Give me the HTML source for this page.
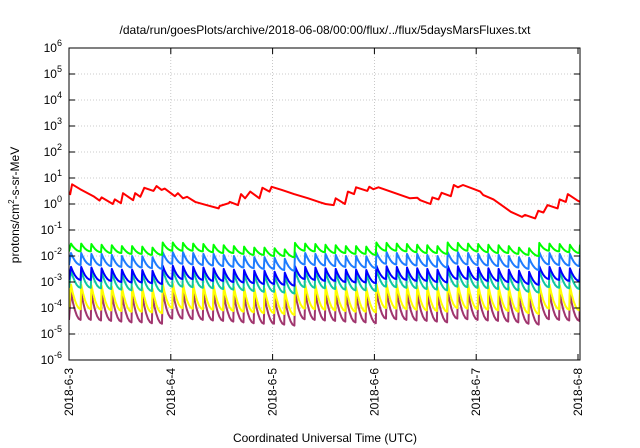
<!DOCTYPE html>
<html><head><meta charset="utf-8"><style>
html,body{margin:0;padding:0;background:#fff;}
svg{display:block;font-family:"Liberation Sans",sans-serif;}
</style></head><body>
<svg id="chart" width="640" height="448" viewBox="0 0 640 448">
<defs><clipPath id="plotclip"><rect x="69" y="48" width="511" height="312"/></clipPath></defs>
<text x="325" y="34" font-size="12" text-anchor="middle" fill="#000">/data/run/goesPlots/archive/2018-06-08/00:00/flux/../flux/5daysMarsFluxes.txt</text>
<g id="grid"></g>
<g id="series" clip-path="url(#plotclip)"></g>
<rect x="69" y="48" width="511" height="312" fill="none" stroke="#000" stroke-width="1"/>
<g id="yticks"></g>
<g id="xticks"></g>
<text transform="translate(19,205) rotate(-90)" font-size="12" text-anchor="middle">protons/cm<tspan dy="-5" font-size="8">2</tspan><tspan dy="5">-s-sr-MeV</tspan></text>
<text x="325" y="442" font-size="12" text-anchor="middle">Coordinated Universal Time (UTC)</text>
</svg>
<script>
const yTickExps = [-6,-5,-4,-3,-2,-1,0,1,2,3,4,5,6];
const xTickLabels = ["2018-6-3","2018-6-4","2018-6-5","2018-6-6","2018-6-7","2018-6-8"];
const xTickDays = [0,1,2,3,4,5];
// tooth (injection) times in days since 2018-6-3
const toothDays = [0.02,0.12,0.22,0.32,0.42,0.52,0.62,0.72,0.82,0.92,1.02,1.12,1.22,1.32,1.42,1.52,1.62,1.72,1.82,1.92,2.02,2.12,2.22,2.32,2.42,2.52,2.62,2.72,2.82,2.92,3.02,3.12,3.22,3.32,3.42,3.52,3.62,3.72,3.82,3.92,4.02,4.12,4.22,4.32,4.42,4.52,4.62,4.72,4.82,4.92,5.02];
const greenPeaks = [.030,.030,.029,.027,.026,.024,.024,.023,.021,.033,.033,.032,.030,.029,.027,.026,.024,.023,.021,.021,.020,.018,.032,.030,.029,.027,.026,.024,.024,.023,.033,.032,.030,.029,.027,.026,.024,.033,.032,.030,.029,.027,.026,.024,.021,.020,.032,.030,.029,.027,.026];
const greenTroughs = [.015,.015,.014,.013,.013,.012,.012,.011,.011,.016,.016,.016,.015,.014,.013,.013,.012,.011,.011,.010,.010,.009,.016,.015,.014,.013,.013,.012,.012,.011,.016,.016,.015,.014,.013,.013,.012,.016,.016,.015,.014,.013,.013,.012,.011,.010,.016,.015,.014,.013,.013];
const lightBluePeaks = [.013,.013,.012,.012,.011,.010,.010,.0098,.0091,.014,.014,.014,.013,.012,.012,.011,.010,.0098,.0091,.0091,.0085,.0078,.014,.013,.012,.012,.011,.010,.010,.0098,.014,.014,.013,.012,.012,.011,.010,.014,.014,.013,.012,.012,.011,.010,.0091,.0085,.014,.013,.012,.012,.011];
const lightBlueTroughs = [.0045,.0045,.0043,.0041,.0038,.0036,.0036,.0034,.0032,.0050,.0050,.0047,.0045,.0043,.0041,.0038,.0036,.0034,.0032,.0032,.0029,.0027,.0047,.0045,.0043,.0041,.0038,.0036,.0036,.0034,.0050,.0047,.0045,.0043,.0041,.0038,.0036,.0050,.0047,.0045,.0043,.0041,.0038,.0036,.0032,.0029,.0047,.0045,.0043,.0041,.0038];
const bluePeaks = [.0038,.0038,.0036,.0034,.0032,.0030,.0030,.0029,.0027,.0042,.0042,.0040,.0038,.0036,.0034,.0032,.0030,.0029,.0027,.0027,.0025,.0023,.0040,.0038,.0036,.0034,.0032,.0030,.0030,.0029,.0042,.0040,.0038,.0036,.0034,.0032,.0030,.0042,.0040,.0038,.0036,.0034,.0032,.0030,.0027,.0025,.0040,.0038,.0036,.0034,.0032];
const blueTroughs = [.0012,.0012,.0011,.0011,.0010,.00096,.00096,.0009,.00084,.0013,.0013,.0013,.0012,.0011,.0011,.0010,.00096,.0009,.00084,.00084,.00078,.00072,.0013,.0012,.0011,.0011,.0010,.00096,.00096,.0009,.0013,.0013,.0012,.0011,.0011,.0010,.00096,.0013,.0013,.0012,.0011,.0011,.0010,.00096,.00084,.00078,.0013,.0012,.0011,.0011,.0010];
const tealPeaks = [.0028,.0028,.0027,.0025,.0024,.0022,.0022,.0021,.0020,.0031,.0031,.0029,.0028,.0027,.0025,.0024,.0022,.0021,.0020,.0020,.0018,.0017,.0029,.0028,.0027,.0025,.0024,.0022,.0022,.0021,.0031,.0029,.0028,.0027,.0025,.0024,.0022,.0031,.0029,.0028,.0027,.0025,.0024,.0022,.0020,.0018,.0029,.0028,.0027,.0025,.0024];
const tealTroughs = [.00060,.00060,.00057,.00054,.00051,.00048,.00048,.00045,.00042,.00066,.00066,.00063,.00060,.00057,.00054,.00051,.00048,.00045,.00042,.00042,.00039,.00036,.00063,.00060,.00057,.00054,.00051,.00048,.00048,.00045,.00066,.00063,.00060,.00057,.00054,.00051,.00048,.00066,.00063,.00060,.00057,.00054,.00051,.00048,.00042,.00039,.00063,.00060,.00057,.00054,.00051];
const yellowPeaks = [8.0e-4,8.0e-4,7.6e-4,7.2e-4,6.8e-4,6.4e-4,6.4e-4,6.0e-4,5.6e-4,8.8e-4,8.8e-4,8.4e-4,8.0e-4,7.6e-4,7.2e-4,6.8e-4,6.4e-4,6.0e-4,5.6e-4,5.6e-4,5.2e-4,4.8e-4,8.4e-4,8.0e-4,7.6e-4,7.2e-4,6.8e-4,6.4e-4,6.4e-4,6.0e-4,8.8e-4,8.4e-4,8.0e-4,7.6e-4,7.2e-4,6.8e-4,6.4e-4,8.8e-4,8.4e-4,8.0e-4,7.6e-4,7.2e-4,6.8e-4,6.4e-4,5.6e-4,5.2e-4,8.4e-4,8.0e-4,7.6e-4,7.2e-4,6.8e-4];
const yellowTroughs = [9.0e-5,9.0e-5,8.6e-5,8.1e-5,7.7e-5,7.2e-5,7.2e-5,6.8e-5,6.3e-5,9.9e-5,9.9e-5,9.5e-5,9.0e-5,8.6e-5,8.1e-5,7.7e-5,7.2e-5,6.8e-5,6.3e-5,6.3e-5,5.9e-5,5.4e-5,9.5e-5,9.0e-5,8.6e-5,8.1e-5,7.7e-5,7.2e-5,7.2e-5,6.8e-5,9.9e-5,9.5e-5,9.0e-5,8.6e-5,8.1e-5,7.7e-5,7.2e-5,9.9e-5,9.5e-5,9.0e-5,8.6e-5,8.1e-5,7.7e-5,7.2e-5,6.3e-5,5.9e-5,9.5e-5,9.0e-5,8.6e-5,8.1e-5,7.7e-5];
const magentaPeaks = [4.0e-4,4.0e-4,3.8e-4,3.6e-4,3.4e-4,3.2e-4,3.2e-4,3.0e-4,2.8e-4,4.4e-4,4.4e-4,4.2e-4,4.0e-4,3.8e-4,3.6e-4,3.4e-4,3.2e-4,3.0e-4,2.8e-4,2.8e-4,2.6e-4,2.4e-4,4.2e-4,4.0e-4,3.8e-4,3.6e-4,3.4e-4,3.2e-4,3.2e-4,3.0e-4,4.4e-4,4.2e-4,4.0e-4,3.8e-4,3.6e-4,3.4e-4,3.2e-4,4.4e-4,4.2e-4,4.0e-4,3.8e-4,3.6e-4,3.4e-4,3.2e-4,2.8e-4,2.6e-4,4.2e-4,4.0e-4,3.8e-4,3.6e-4,3.4e-4];
const magentaTroughs = [3.5e-5,3.5e-5,3.3e-5,3.2e-5,3.0e-5,2.8e-5,2.8e-5,2.6e-5,2.5e-5,3.9e-5,3.9e-5,3.7e-5,3.5e-5,3.3e-5,3.2e-5,3.0e-5,2.8e-5,2.6e-5,2.5e-5,2.5e-5,2.3e-5,2.1e-5,3.7e-5,3.5e-5,3.3e-5,3.2e-5,3.0e-5,2.8e-5,2.8e-5,2.6e-5,3.9e-5,3.7e-5,3.5e-5,3.3e-5,3.2e-5,3.0e-5,2.8e-5,3.9e-5,3.7e-5,3.5e-5,3.3e-5,3.2e-5,3.0e-5,2.8e-5,2.5e-5,2.3e-5,3.7e-5,3.5e-5,3.3e-5,3.2e-5,3.0e-5];
const redDays = [0.01,0.03,0.11,0.24,0.30,0.32,0.43,0.45,0.51,0.53,0.63,0.65,0.70,0.74,0.83,0.86,0.91,0.94,1.04,1.07,1.12,1.16,1.24,1.35,1.47,1.48,1.57,1.58,1.66,1.69,1.73,1.78,1.87,1.90,1.97,1.99,2.09,2.21,2.35,2.47,2.52,2.60,2.62,2.71,2.74,2.80,2.82,2.93,2.95,2.99,3.04,3.35,3.42,3.45,3.55,3.57,3.63,3.66,3.75,3.78,3.82,3.87,3.98,4.04,4.07,4.17,4.27,4.34,4.45,4.48,4.58,4.61,4.66,4.70,4.80,4.82,4.88,4.90,4.99,5.02];
const redValues = [2.2,5.7,3.7,2.0,1.35,1.8,1.0,1.5,1.07,2.6,1.4,2.6,1.9,4.2,3.2,4.9,3.5,3.9,2.0,2.6,1.65,1.9,1.2,0.91,0.68,0.84,1.07,1.2,0.91,2.4,1.65,3.0,1.65,4.2,3.0,4.6,3.5,2.4,1.65,1.15,1.0,0.91,1.65,1.0,3.0,2.4,4.4,3.2,4.6,3.7,4.4,1.65,1.75,1.4,1.0,1.8,1.5,2.7,2.0,5.4,4.4,5.4,3.7,3.0,2.2,1.5,0.79,0.5,0.32,0.38,0.28,0.55,0.47,0.91,0.68,1.5,1.2,2.4,1.4,1.2];

const X0=69, PX_PER_DAY=101.8, Y_TOP=48, PX_PER_DEC=26, TOP_EXP=6;
function xScale(d){return X0+d*PX_PER_DAY;}
function yScale(v){return Y_TOP+(TOP_EXP-Math.log10(v))*PX_PER_DEC;}
const NS="http://www.w3.org/2000/svg";
function mk(tag,attrs,parent){const e=document.createElementNS(NS,tag);for(const k in attrs)e.setAttribute(k,attrs[k]);parent.appendChild(e);return e;}

const grid=document.getElementById('grid'), yt=document.getElementById('yticks'), xt=document.getElementById('xticks');
yTickExps.forEach(function(ex){
  const y=yScale(Math.pow(10,ex));
  if(ex>-6&&ex<6){
    const g=mk('line',{x1:69,x2:580,y1:y,y2:y,stroke:'#bbb','stroke-width':0.8,'stroke-dasharray':'1,2'},grid);
    
    
  }
  const t1=mk('line',{x1:69,x2:75,y1:y,y2:y,stroke:'#000'},yt);
  
  
  const t2=mk('line',{x1:574,x2:580,y1:y,y2:y,stroke:'#000'},yt);
  
  
  const tx=mk('text',{x:62,y:y+4,'font-size':12,'text-anchor':'end'},yt);
  
  
  tx.appendChild(document.createTextNode('10'));
  const s=mk('tspan',{dy:-6,'font-size':9},tx);
  s.textContent=String(ex);
  // shift so superscript sits after base
});
xTickDays.forEach(function(d,i){
  const x=xScale(d);
  if(i>0&&i<5){
    const g=mk('line',{x1:x,x2:x,y1:48,y2:360,stroke:'#bbb','stroke-width':0.8,'stroke-dasharray':'1,2'},grid);
    
    
  }
  const t=mk('line',{x1:x,x2:x,y1:354,y2:360,stroke:'#000'},xt);
  
  
  const t2=mk('line',{x1:x,x2:x,y1:48,y2:54,stroke:'#000'},xt);
  
  
  const lb=mk('text',{transform:'translate('+(x+4)+',368) rotate(-90)','font-size':12,'text-anchor':'end'},xt);
  
  
  lb.textContent=xTickLabels[i];
});
// y tick labels: fix superscript positioning (tspan dy shifts baseline)
Array.from(yt.querySelectorAll('text')).forEach(function(t){t.setAttribute('text-anchor','end');});

const ser=document.getElementById('series');
function sawPath(peaks,troughs){
  let d='M'+xScale(0).toFixed(1)+','+yScale(troughs[0]*1.0).toFixed(1);
  for(let i=0;i<toothDays.length;i++){
    const t0=toothDays[i];
    const t1=(i+1<toothDays.length)?toothDays[i+1]-0.006:5.05;
    const lp=Math.log10(peaks[i]), lt=Math.log10(troughs[i]);
    d+=' L'+xScale(t0).toFixed(1)+','+yScale(peaks[i]).toFixed(1);
    for(let k=1;k<=5;k++){
      const s=k/5;
      const lv=lt+(lp-lt)*Math.pow(1-s,2);
      d+=' L'+xScale(t0+(t1-t0)*s).toFixed(1)+','+yScale(Math.pow(10,lv)).toFixed(1);
    }
  }
  return d;
}
const seriesDefs=[
  ['magenta-series',magentaPeaks,magentaTroughs,'#a0356e'],
  ['yellow-series',yellowPeaks,yellowTroughs,'#ffff00'],
  ['teal-series',tealPeaks,tealTroughs,'#10c8a0'],
  ['blue-series',bluePeaks,blueTroughs,'#0000ff'],
  ['light-blue-series',lightBluePeaks,lightBlueTroughs,'#1e7cff'],
  ['green-series',greenPeaks,greenTroughs,'#00ff00']
];
seriesDefs.forEach(function(s){
  const p=mk('path',{d:sawPath(s[1],s[2]),fill:'none',stroke:s[3],'stroke-width':2,'stroke-linejoin':'round'},ser);
  
  
});
let rd='';
redDays.forEach(function(d,i){rd+=(i?' L':'M')+xScale(d).toFixed(1)+','+yScale(redValues[i]).toFixed(1);});
const rp=mk('path',{d:rd,fill:'none',stroke:'#ff0000','stroke-width':2,'stroke-linejoin':'round'},ser);


</script>
</body></html>
